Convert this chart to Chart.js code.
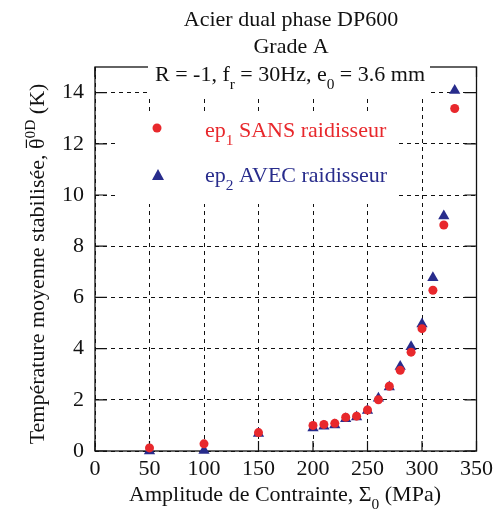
<!DOCTYPE html>
<html><head><meta charset="utf-8">
<script src="https://cdn.jsdelivr.net/npm/chart.js@4.4.1/dist/chart.umd.min.js"></script>
<style>html,body{margin:0;padding:0;background:#fff;}#wrap{width:498px;height:513px;}</style>
</head><body><div id="wrap"><canvas id="c" width="498" height="513"></canvas></div>
<script>
const amplitudes = [50,100,150,200,210,220,230,240,250,260,270,280,290,300,310,320,330];
const ep1Sans = [0.12,0.28,0.72,1.0,1.04,1.08,1.32,1.36,1.6,2.0,2.53,3.15,3.86,4.78,6.28,8.83,13.38];
const ep2Avec = [0.0,0.02,0.68,0.9,0.97,1.02,1.26,1.33,1.58,2.06,2.5,3.3,4.07,4.96,6.77,9.18,14.08];
const xTicks = [0,50,100,150,200,250,300,350];
const yTicks = [0,2,4,6,8,10,12,14];
const titleLines = ["Acier dual phase DP600","Grade A"];

const RED = 'rgb(232,40,44)';
const BLUE = 'rgb(40,44,140)';
const FONT = '"Liberation Serif", "Times New Roman", serif';
const FS = 22;

function richWidth(ctx, segs, size){
  let w=0;
  for(const s of segs){
    const fs = s.s ? size*0.7 : size;
    ctx.font = fs+'px '+FONT;
    w += ctx.measureText(s.t).width;
  }
  return w;
}
function drawRich(ctx, segs, x, y, size, color, align){
  const w = richWidth(ctx, segs, size);
  let cx = align==='center' ? x - w/2 : x;
  ctx.fillStyle = color; ctx.textBaseline='alphabetic'; ctx.textAlign='left';
  for(const s of segs){
    const fs = s.s ? size*0.7 : size;
    ctx.font = fs+'px '+FONT;
    let dy = 0;
    if(s.s==='sub') dy = size*0.36;
    if(s.s==='sup') dy = -size*0.42;
    ctx.fillText(s.t, cx, y+dy);
    const mw = ctx.measureText(s.t).width;
    if(s.over){
      ctx.save(); ctx.strokeStyle=color; ctx.lineWidth=1.2;
      ctx.beginPath(); ctx.moveTo(cx+1, y-size*0.8); ctx.lineTo(cx+mw-1, y-size*0.8); ctx.stroke(); ctx.restore();
    }
    cx += mw;
  }
}

const decor = {
  id:'decor',
  beforeDatasetsDraw(chart){
    const {ctx, chartArea:a, scales} = chart;
    ctx.save();
    ctx.strokeStyle='#111'; ctx.lineWidth=1.3; ctx.setLineDash([]);
    ctx.strokeRect(a.left, a.top, a.right-a.left, a.bottom-a.top);
    ctx.lineWidth=1.2;
    ctx.beginPath();
    for(const v of xTicks){
      const px = scales.x.getPixelForValue(v);
      ctx.moveTo(px, a.bottom); ctx.lineTo(px, a.bottom-10);
      ctx.moveTo(px, a.top); ctx.lineTo(px, a.top+10);
    }
    for(const v of yTicks){
      const py = scales.y.getPixelForValue(v);
      ctx.moveTo(a.left, py); ctx.lineTo(a.left+12, py);
      ctx.moveTo(a.right, py); ctx.lineTo(a.right-12, py);
    }
    ctx.stroke();
    ctx.fillStyle='#fff';
    ctx.fillRect(148, 56, 282, 41);
    ctx.fillRect(119, 112, 278, 92);
    drawRich(ctx,[{t:'R = -1, f'},{t:'r',s:'sub'},{t:' = 30Hz, e'},{t:'0',s:'sub'},{t:' = 3.6 mm'}], 290, 81, FS, '#111', 'center');
    ctx.fillStyle=RED;
    ctx.beginPath(); ctx.arc(157,128,4.5,0,Math.PI*2); ctx.fill();
    ctx.fillStyle=BLUE;
    ctx.beginPath(); ctx.moveTo(158,169); ctx.lineTo(164,180); ctx.lineTo(152,180); ctx.closePath(); ctx.fill();
    drawRich(ctx,[{t:'ep'},{t:'1',s:'sub'},{t:' SANS raidisseur'}], 205, 137, FS, RED, 'left');
    drawRich(ctx,[{t:'ep'},{t:'2',s:'sub'},{t:' AVEC raidisseur'}], 205, 182, FS, BLUE, 'left');
    ctx.restore();
  },
  afterDraw(chart){
    const {ctx} = chart;
    ctx.save();
    ctx.font = FS+'px '+FONT; ctx.fillStyle='#111'; ctx.textAlign='center'; ctx.textBaseline='alphabetic';
    ctx.fillText(titleLines[0], 291, 26);
    ctx.fillText(titleLines[1], 291, 53);
    drawRich(ctx,[{t:'Amplitude de Contrainte, Σ'},{t:'0',s:'sub'},{t:' (MPa)'}], 285, 501, FS, '#111', 'center');
    ctx.translate(44, 264); ctx.rotate(-Math.PI/2);
    drawRich(ctx,[{t:'Température moyenne stabilisée, '},{t:'θ',over:true},{t:'0D',s:'sup'},{t:' (K)'}], 0, 0, FS, '#111', 'center');
    ctx.restore();
  }
};

new Chart(document.getElementById('c'), {
  type:'scatter',
  data:{ datasets:[
    {label:'ep1 SANS raidisseur', data: amplitudes.map((x,i)=>({x, y: ep1Sans[i]})), pointStyle:'circle', pointRadius:4.5, pointHoverRadius:4.5, backgroundColor:RED, borderColor:RED, borderWidth:0, clip:false},
    {label:'ep2 AVEC raidisseur', data: amplitudes.map((x,i)=>({x, y: ep2Avec[i]})), pointStyle:'triangle', pointRadius:6.5, pointHoverRadius:6.5, backgroundColor:BLUE, borderColor:BLUE, borderWidth:0, clip:false}
  ]},
  options:{
    responsive:false, animation:false, devicePixelRatio:1,
    layout:{ padding:{left:0, top:67, right:19, bottom:0}, autoPadding:false },
    plugins:{ legend:{display:false}, tooltip:{enabled:false}, title:{display:false} },
    scales:{
      x:{ type:'linear', min:0, max:350,
        afterFit(s){ s.height = 62; },
        afterBuildTicks(s){ s.ticks = xTicks.map(v=>({value:v})); },
        ticks:{ font:{family:FONT, size:FS}, color:'#111', padding:5, maxRotation:0, autoSkip:false },
        grid:{ color:'#111', lineWidth:1, drawTicks:false },
        border:{ display:false, dash:[4,4] }
      },
      y:{ type:'linear', min:0, max:15,
        afterFit(s){ s.width = 95; },
        afterBuildTicks(s){ s.ticks = yTicks.map(v=>({value:v})); },
        ticks:{ font:{family:FONT, size:FS}, color:'#111', padding:11, autoSkip:false },
        grid:{ color:'#111', lineWidth:1, drawTicks:false },
        border:{ display:false, dash:[4,4] }
      }
    }
  },
  plugins:[decor]
});
</script></body></html>
